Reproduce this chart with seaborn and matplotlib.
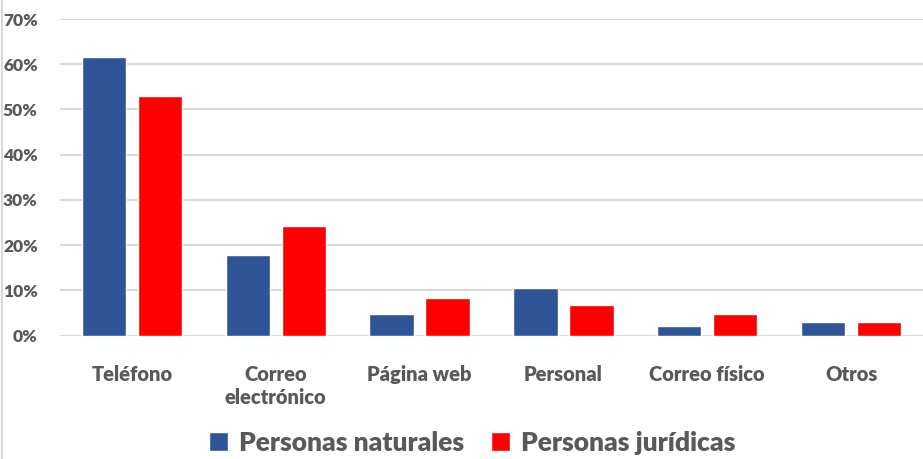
import matplotlib
matplotlib.use("Agg")
import matplotlib.pyplot as plt
import matplotlib.ticker as mticker
import pandas as pd
import seaborn as sns

CANALES = ["Teléfono", "Correo\nelectrónico", "Página web", "Personal", "Correo físico", "Otros"]
NATURALES = [61.7, 17.7, 4.8, 10.5, 2.2, 3.0]
JURIDICAS = [53.0, 24.3, 8.2, 6.7, 4.7, 2.9]
SERIES = ["Personas naturales", "Personas jurídicas"]
COLORS = ["#2F5597", "#FF0000"]
TEXT = "#595959"

df = pd.DataFrame({
    "canal": CANALES * 2,
    "serie": [SERIES[0]] * len(CANALES) + [SERIES[1]] * len(CANALES),
    "valor": NATURALES + JURIDICAS,
})

sns.set_style("white")
plt.rcParams["font.family"] = ["Lato", "DejaVu Sans"]

fig = plt.figure(figsize=(9.23, 4.59), dpi=100)
ax = fig.add_axes([60 / 923, 0.269, 1 - 60 / 923, 0.9586 - 0.269])

sns.barplot(data=df, x="canal", y="valor", hue="serie", palette=COLORS,
            saturation=1, width=0.78, gap=0.21, ax=ax, legend=True)

ax.set_ylim(0, 70)
ax.set_xlim(-0.5, len(CANALES) - 0.5)
ax.yaxis.set_major_locator(mticker.MultipleLocator(10))
ax.yaxis.set_major_formatter(mticker.FuncFormatter(lambda v, _: f"{v:.0f}%"))
ax.grid(axis="y", color="#d9d9d9", linewidth=1.5)
ax.set_axisbelow(True)
for s in ax.spines.values():
    s.set_visible(False)
ax.set_xlabel("")
ax.set_ylabel("")
ax.tick_params(axis="y", length=0, pad=16, labelsize=12.5, labelcolor=TEXT)
ax.tick_params(axis="x", length=0, pad=21, labelsize=14.5, labelcolor=TEXT)
for lab in ax.get_yticklabels() + ax.get_xticklabels():
    lab.set_fontweight("heavy")
for lab in ax.get_xticklabels():
    lab.set_verticalalignment("top")
    lab.set_linespacing(1.3)

handles, labels = ax.get_legend_handles_labels()
ax.get_legend().remove()
fig.legend(handles, labels, loc="center", bbox_to_anchor=(472 / 923, 1 - 443 / 459),
           ncol=2, frameon=False, handlelength=0.75, handleheight=0.75,
           handletextpad=0.4, columnspacing=1.0,
           prop={"size": 19, "weight": "heavy"}, labelcolor=TEXT)

fig.add_artist(plt.Line2D([0.002, 0.002], [0, 1], color="#d9d9d9", linewidth=1.5,
                          transform=fig.transFigure))

fig.savefig("out.png", dpi=100)
